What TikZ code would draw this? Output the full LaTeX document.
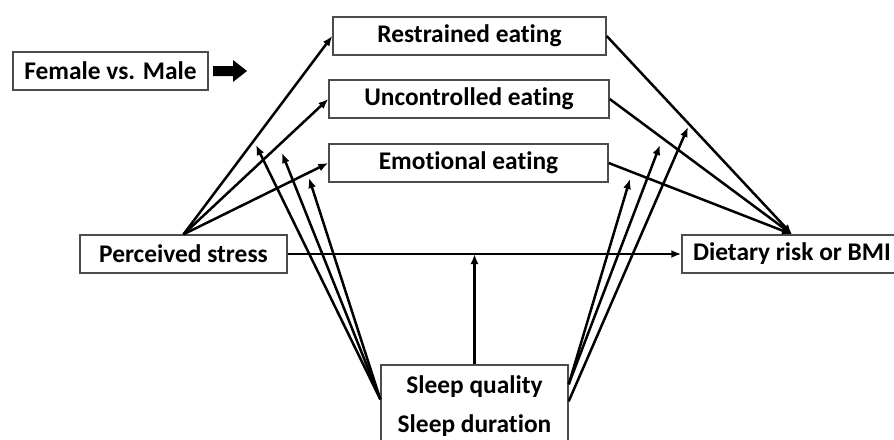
\documentclass[tikz,border=0pt]{standalone}
\usepackage{fontspec}
\setmainfont{Carlito}[Ligatures=NoCommon]
\usetikzlibrary{arrows.meta,calc}
\begin{document}
\begin{tikzpicture}[x=1pt,y=-1pt,
  box/.style={draw=black!70, line width=1.4pt, font=\fontsize{25.4}{30}\selectfont\bfseries, inner sep=0pt, minimum height=38pt},
  lbl/.style={font=\fontsize{25.4}{30}\selectfont\bfseries, inner sep=0pt},
  conn/.style={line width=2.5pt, -{Latex[length=10pt,width=8pt]}}]
\useasboundingbox (0,0) rectangle (894,439);
\node[box, minimum width=195pt] (sex) at (110.5,71) {Female vs. Male};
\node[box, minimum width=207pt] (stress) at (183.5,254) {Perceived stress};
\node[box, minimum width=273pt] (restr) at (469.5,36) {Restrained eating};
\node[box, minimum width=280pt] (unc) at (469,99) {Uncontrolled eating};
\node[box, minimum width=279pt] (emo) at (468.5,163) {Emotional eating};
\node[box, minimum width=220pt] (diet) at (792,254) {Dietary risk or BMI};
\node[box, minimum width=187pt, minimum height=90pt] (sleep) at (474.5,410) {};
\node[lbl] (sq) at (474.5,387) {Sleep quality};
\node[lbl] (sd) at (474.5,425.5) {Sleep duration};
% block arrow
\fill (213,66) -- (233,66) -- (233,60) -- (247,71) -- (233,82) -- (233,76) -- (213,76) -- cycle;
% stress to eating
\draw[conn] (stress.north) -- (restr.west);
\draw[conn] (stress.north) -- (unc.west);
\draw[conn] (stress.north) -- (emo.west);
\draw[conn] (stress.east) -- (diet.west);
% eating to outcome
\draw[conn] (restr.east) -- (diet.north);
\draw[conn] (unc.east) -- (diet.north);
\draw[conn] (emo.east) -- (diet.north);
% sleep moderation
\coordinate (mid) at (sleep.north |- stress.east);
\draw[conn] (sleep.north) -- (mid);
\coordinate (sl) at ($(sleep.north west)+(0,35)$);
\coordinate (m1) at (256,145);
\coordinate (m2) at (282,153);
\coordinate (m3) at (309,178);
\draw[conn] (sl) -- (m1);
\draw[conn] (sl) -- (m2);
\draw[conn] (sl) -- (m3);
\coordinate (sr1) at ($(sleep.north east)+(0,20)$);
\coordinate (sr2) at ($(sleep.north east)+(0,37)$);
\coordinate (n1) at (630,179);
\coordinate (n2) at (660,145);
\coordinate (n3) at (688,127);
\draw[conn] (sr1) -- (n1);
\draw[conn] (sr1) -- (n2);
\draw[conn] (sr2) -- (n3);
\end{tikzpicture}
\end{document}
